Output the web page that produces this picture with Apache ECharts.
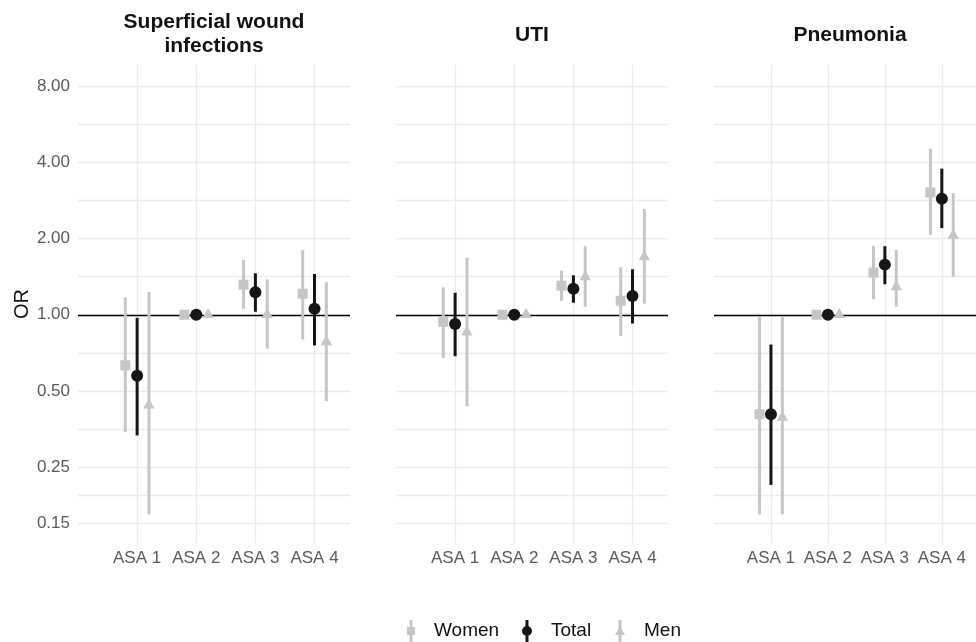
<!DOCTYPE html>
<html><head><meta charset="utf-8">
<script src="https://cdn.jsdelivr.net/npm/echarts@6/dist/echarts.min.js"></script>
<style>html,body{margin:0;padding:0;background:#fff}#c{width:976px;height:642px}</style>
</head><body><div id="c"></div>
<script>
// ---------- data ----------
const panelTitles = ['Superficial wound\ninfections', 'UTI', 'Pneumonia'];
const categories = ['ASA 1', 'ASA 2', 'ASA 3', 'ASA 4'];
const groups = ['Women', 'Total', 'Men'];
const yTickValues = [0.15, 0.25, 0.5, 1, 2, 4, 8];

// Superficial wound infections
const swiWomenOR = [0.632, 1, 1.315, 1.211];
const swiWomenLo = [0.344, null, 1.056, 0.799];
const swiWomenHi = [1.172, null, 1.647, 1.80];
const swiTotalOR = [0.575, 1, 1.227, 1.056];
const swiTotalLo = [0.334, null, 1.028, 0.757];
const swiTotalHi = [0.973, null, 1.459, 1.45];
const swiMenOR = [0.44, 1, 1.0, 0.782];
const swiMenLo = [0.163, null, 0.736, 0.456];
const swiMenHi = [1.233, null, 1.381, 1.344];

// UTI
const utiWomenOR = [0.938, 1, 1.303, 1.136];
const utiWomenLo = [0.675, null, 1.136, 0.826];
const utiWomenHi = [1.284, null, 1.494, 1.541];
const utiTotalOR = [0.919, 1, 1.268, 1.186];
const utiTotalLo = [0.686, null, 1.116, 0.924];
const utiTotalHi = [1.222, null, 1.432, 1.513];
const utiMenOR = [0.854, 1, 1.41, 1.693];
const utiMenLo = [0.435, null, 1.076, 1.106];
const utiMenHi = [1.682, null, 1.866, 2.615];

// Pneumonia
const pneWomenOR = [0.405, 1, 1.467, 3.042];
const pneWomenLo = [0.163, null, 1.151, 2.069];
const pneWomenHi = [0.982, null, 1.871, 4.52];
const pneTotalOR = [0.405, 1, 1.578, 2.872];
const pneTotalLo = [0.213, null, 1.32, 2.199];
const pneTotalHi = [0.763, null, 1.866, 3.777];
const pneMenOR = [0.393, 1, 1.287, 2.059];
const pneMenLo = [0.163, null, 1.076, 1.414];
const pneMenHi = [0.982, null, 1.804, 3.026];

// ---------- assembly ----------
const panels = [
  { Women: [swiWomenOR, swiWomenLo, swiWomenHi], Total: [swiTotalOR, swiTotalLo, swiTotalHi], Men: [swiMenOR, swiMenLo, swiMenHi] },
  { Women: [utiWomenOR, utiWomenLo, utiWomenHi], Total: [utiTotalOR, utiTotalLo, utiTotalHi], Men: [utiMenOR, utiMenLo, utiMenHi] },
  { Women: [pneWomenOR, pneWomenLo, pneWomenHi], Total: [pneTotalOR, pneTotalLo, pneTotalHi], Men: [pneMenOR, pneMenLo, pneMenHi] }
];

const GREY = '#c6c6c6', BLACK = '#151515';
const style = {
  Women: { color: GREY, symbol: 'rect', size: 10, offset: [0, 0], dodge: -0.2 },
  Total: { color: BLACK, symbol: 'circle', size: 12, offset: [0, 0], dodge: 0 },
  Men:   { color: GREY, symbol: 'triangle', size: [11.5, 10], offset: [0, -1.7], dodge: 0.2 }
};
const drawOrder = ['Women', 'Men', 'Total'];
const FONT = '"Liberation Sans", Arial, Helvetica, sans-serif';

// gridline positions: major ticks + geometric midpoints
const gridVals = [];
yTickValues.forEach((v, i) => {
  gridVals.push(v);
  if (i < yTickValues.length - 1) gridVals.push(Math.sqrt(v * yTickValues[i + 1]));
});

const gridLefts = [78, 396, 714];
const grids = [], xAxes = [], yAxes = [], series = [], titles = [];

panels.forEach((p, pi) => {
  grids.push({ left: gridLefts[pi], width: 272, top: 65, height: 478, containLabel: false });
  titles.push({
    text: panelTitles[pi], left: gridLefts[pi] + 136, top: pi === 0 ? 10 : 23, textAlign: 'center',
    padding: 0,
    textStyle: { fontFamily: FONT, fontSize: 21, fontWeight: 'bold', color: '#111', lineHeight: 24 }
  });
  xAxes.push({
    type: 'value', gridIndex: pi, min: 0, max: 4.6,
    axisLine: { show: false },
    axisTick: { show: false, customValues: [1, 2, 3, 4] },
    axisLabel: { customValues: [1, 2, 3, 4], formatter: v => categories[Math.round(v) - 1],
      color: '#5a5a5a', fontSize: 17, fontFamily: FONT, margin: 7 },
    splitLine: { show: true, lineStyle: { color: '#ebebeb', width: 1.3 } }
  });
  yAxes.push({
    type: 'log', logBase: 2, gridIndex: pi, min: 0.1256, max: 9.69,
    axisLine: { show: false },
    axisTick: { show: false, customValues: gridVals },
    axisLabel: { show: pi === 0, customValues: yTickValues, formatter: v => Number(v).toFixed(2),
      color: '#5a5a5a', fontSize: 17, fontFamily: FONT, margin: 8 },
    splitLine: { show: true, lineStyle: { color: '#ebebeb', width: 1.3 } },
    name: pi === 0 ? 'OR' : '', nameLocation: 'middle', nameGap: 46,
    nameTextStyle: { fontSize: 20, color: '#111', fontFamily: FONT }
  });

  drawOrder.forEach(g => {
    const [or, lo, hi] = p[g];
    const st = style[g];
    const barData = [];
    categories.forEach((c, ci) => {
      if (lo[ci] != null && hi[ci] != null) barData.push([ci + 1 + st.dodge, lo[ci], hi[ci]]);
    });
    series.push({
      type: 'custom', name: g, xAxisIndex: pi, yAxisIndex: pi, silent: true,
      encode: { x: 0, y: [1, 2] },
      itemStyle: { color: st.color },
      data: barData,
      renderItem: (params, api) => {
        const a = api.coord([api.value(0), api.value(1)]);
        const b = api.coord([api.value(0), api.value(2)]);
        return { type: 'line', shape: { x1: a[0], y1: a[1], x2: b[0], y2: b[1] },
          style: { stroke: st.color, lineWidth: 3 } };
      }
    });
    const s = {
      type: 'scatter', name: g, xAxisIndex: pi, yAxisIndex: pi, silent: true,
      symbol: st.symbol, symbolSize: st.size, symbolOffset: st.offset,
      itemStyle: { color: st.color, opacity: 1 },
      data: categories.map((c, ci) => [ci + 1 + st.dodge, or[ci]])
    };
    if (g === 'Women') {
      s.markLine = { silent: true, symbol: 'none', label: { show: false },
        lineStyle: { color: '#000', width: 1.3, type: 'solid' }, data: [{ yAxis: 1 }], z: 1 };
    }
    series.push(s);
  });
});

const legendIcons = {
  Women: 'path://M2.5,0 H5.5 V22 H2.5 Z M0,7 H8 V15 H0 Z',
  Total: 'path://M3.5,0 H6.5 V22 H3.5 Z M0,11 A5,5 0 1,1 10,11 A5,5 0 1,1 0,11 Z',
  Men: 'path://M3.5,0 H6.5 V22 H3.5 Z M0,15 L5,6 L10,15 Z'
};
const legendColors = { Women: GREY, Total: BLACK, Men: GREY };
const legendCenters = { Women: 411, Total: 527, Men: 620 };
const legendWidths = { Women: 8, Total: 10, Men: 10 };
const legends = groups.map(g => ({
  data: [{ name: g, icon: legendIcons[g], itemStyle: { color: legendColors[g] } }],
  left: legendCenters[g] - legendWidths[g] / 2, top: 620, padding: 0,
  itemWidth: legendWidths[g], itemHeight: 22, selectedMode: false,
  textStyle: { fontSize: 19, color: '#111', fontFamily: FONT, padding: [0, 0, 0, 14] }
}));

const chart = echarts.init(document.getElementById('c'), null, { renderer: 'canvas' });
chart.setOption({
  animation: false,
  backgroundColor: '#fff',
  title: titles,
  grid: grids,
  xAxis: xAxes,
  yAxis: yAxes,
  legend: legends,
  series: series
});
</script>
</body></html>
